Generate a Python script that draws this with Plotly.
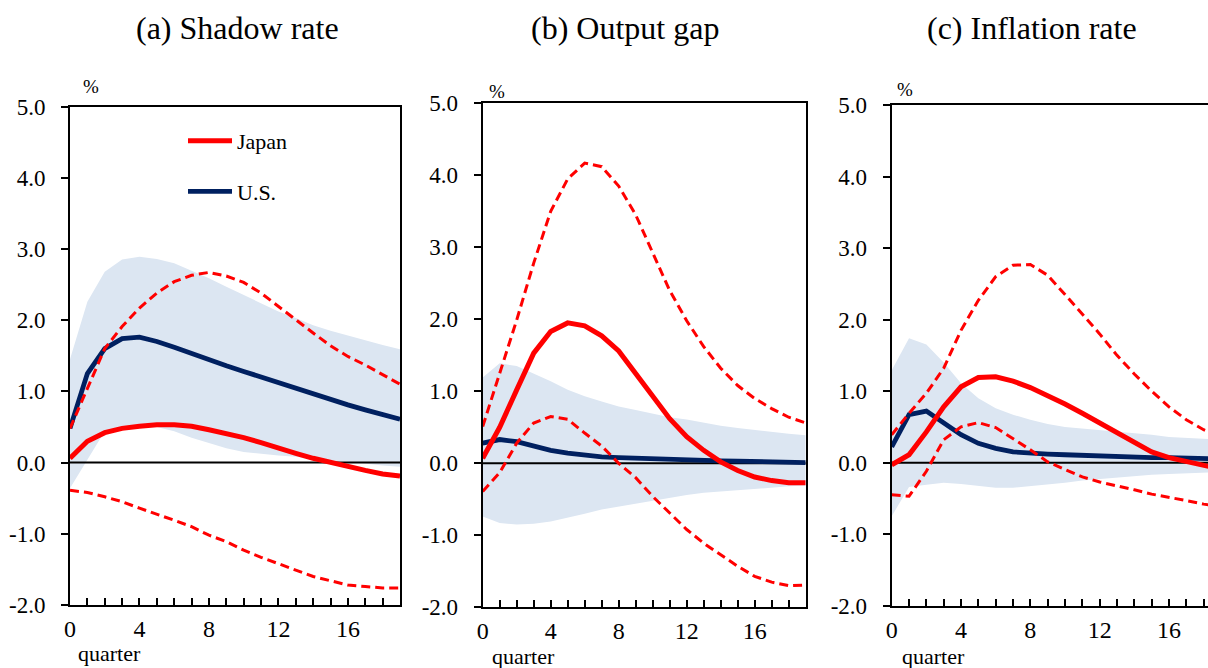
import plotly.graph_objects as go

W, H = 1208, 668

quarters = list(range(20))
x_ticks = [0, 4, 8, 12, 16]
y_ticks = [-2, -1, 0, 1, 2, 3, 4, 5]
y_ticktext = ["-2.0", "-1.0", "0.0", "1.0", "2.0", "3.0", "4.0", "5.0"]
panel_titles = ["(a) Shadow rate", "(b) Output gap", "(c) Inflation rate"]

# ---- (a) Shadow rate ----
jp1 = [0.06, 0.30, 0.42, 0.48, 0.51, 0.53, 0.53, 0.51, 0.46, 0.41, 0.35, 0.28, 0.20, 0.13, 0.06, 0.00, -0.06, -0.11, -0.16, -0.19]
jp1_hi = [0.48, 1.05, 1.60, 1.91, 2.17, 2.38, 2.54, 2.63, 2.67, 2.62, 2.53, 2.38, 2.19, 2.00, 1.82, 1.64, 1.49, 1.37, 1.24, 1.10]
jp1_lo = [-0.39, -0.42, -0.48, -0.55, -0.64, -0.72, -0.81, -0.90, -1.02, -1.11, -1.23, -1.33, -1.42, -1.51, -1.60, -1.66, -1.72, -1.74, -1.76, -1.76]
us1 = [0.48, 1.25, 1.60, 1.74, 1.76, 1.70, 1.62, 1.53, 1.44, 1.36, 1.28, 1.20, 1.12, 1.04, 0.96, 0.88, 0.81, 0.74, 0.68, 0.61]
us1_hi = [1.45, 2.26, 2.68, 2.85, 2.89, 2.86, 2.80, 2.70, 2.59, 2.47, 2.35, 2.24, 2.12, 2.03, 1.93, 1.85, 1.78, 1.71, 1.65, 1.59]
us1_lo = [-0.36, 0.05, 0.44, 0.48, 0.50, 0.50, 0.44, 0.35, 0.27, 0.20, 0.15, 0.12, 0.10, 0.08, 0.05, 0.03, 0.01, -0.02, -0.04, -0.06]

# ---- (b) Output gap ----
jp2 = [0.07, 0.50, 1.02, 1.53, 1.83, 1.95, 1.91, 1.77, 1.56, 1.25, 0.92, 0.62, 0.37, 0.18, 0.02, -0.10, -0.19, -0.24, -0.27, -0.27]
jp2_hi = [0.51, 1.25, 1.99, 2.78, 3.50, 3.95, 4.17, 4.12, 3.85, 3.45, 2.93, 2.40, 1.98, 1.62, 1.32, 1.08, 0.90, 0.76, 0.64, 0.56]
jp2_lo = [-0.39, -0.13, 0.28, 0.56, 0.65, 0.61, 0.42, 0.24, 0.00, -0.20, -0.46, -0.69, -0.92, -1.11, -1.27, -1.43, -1.57, -1.65, -1.70, -1.69]
us2 = [0.28, 0.33, 0.30, 0.24, 0.18, 0.14, 0.11, 0.09, 0.08, 0.07, 0.06, 0.05, 0.045, 0.04, 0.035, 0.03, 0.025, 0.02, 0.015, 0.01]
us2_hi = [1.19, 1.39, 1.35, 1.25, 1.14, 1.02, 0.93, 0.86, 0.79, 0.74, 0.69, 0.64, 0.61, 0.56, 0.52, 0.49, 0.46, 0.43, 0.41, 0.39]
us2_lo = [-0.74, -0.83, -0.85, -0.84, -0.81, -0.76, -0.70, -0.64, -0.60, -0.55, -0.51, -0.47, -0.44, -0.41, -0.39, -0.37, -0.35, -0.33, -0.32, -0.31]

# ---- (c) Inflation rate ----
jp3 = [-0.03, 0.11, 0.43, 0.78, 1.06, 1.19, 1.20, 1.14, 1.05, 0.94, 0.82, 0.69, 0.55, 0.41, 0.27, 0.15, 0.07, 0.01, -0.05, -0.09]
jp3_hi = [0.39, 0.69, 0.97, 1.32, 1.85, 2.27, 2.60, 2.76, 2.77, 2.62, 2.35, 2.08, 1.80, 1.50, 1.24, 1.00, 0.78, 0.60, 0.46, 0.36]
jp3_lo = [-0.45, -0.47, -0.12, 0.32, 0.50, 0.56, 0.49, 0.34, 0.18, 0.01, -0.10, -0.20, -0.27, -0.32, -0.38, -0.44, -0.48, -0.53, -0.58, -0.62]
us3 = [0.22, 0.67, 0.72, 0.55, 0.39, 0.27, 0.20, 0.15, 0.13, 0.12, 0.11, 0.10, 0.09, 0.08, 0.08, 0.07, 0.07, 0.06, 0.06, 0.05]
us3_hi = [1.29, 1.74, 1.65, 1.40, 1.11, 0.90, 0.76, 0.67, 0.60, 0.54, 0.50, 0.48, 0.46, 0.43, 0.41, 0.39, 0.36, 0.35, 0.33, 0.32]
us3_lo = [-0.75, -0.34, -0.31, -0.28, -0.30, -0.33, -0.35, -0.35, -0.33, -0.31, -0.28, -0.25, -0.23, -0.20, -0.19, -0.17, -0.16, -0.15, -0.14, -0.13]

panels = [
    dict(jp=jp1, jp_hi=jp1_hi, jp_lo=jp1_lo, us=us1, us_hi=us1_hi, us_lo=us1_lo),
    dict(jp=jp2, jp_hi=jp2_hi, jp_lo=jp2_lo, us=us2, us_hi=us2_hi, us_lo=us2_lo),
    dict(jp=jp3, jp_hi=jp3_hi, jp_lo=jp3_lo, us=us3, us_hi=us3_hi, us_lo=us3_lo),
]

RED = "#FF0000"
NAVY = "#002060"
BAND = "#DCE6F2"
FONT = "Liberation Serif"

# pixel geometry of each plot area: (left, right, top, bottom)
geo = [(70, 400, 106.5, 605), (482.7, 805.7, 103.3, 607.3), (891.7, 1208, 105, 605.7)]
x_ranges = [[0, 19], [0, 19], [0, (1208 - 891.7) / 17.33]]

fig = go.Figure()

for i, p in enumerate(panels):
    xa = "x" if i == 0 else f"x{i+1}"
    ya = "y" if i == 0 else f"y{i+1}"
    # US confidence band
    fig.add_trace(go.Scatter(x=quarters, y=p["us_hi"], mode="lines", line=dict(width=0, color=BAND),
                             showlegend=False, hoverinfo="skip", xaxis=xa, yaxis=ya))
    fig.add_trace(go.Scatter(x=quarters, y=p["us_lo"], mode="lines", line=dict(width=0, color=BAND),
                             fill="tonexty", fillcolor=BAND, showlegend=False, hoverinfo="skip",
                             xaxis=xa, yaxis=ya))
    # zero reference line
    fig.add_trace(go.Scatter(x=[quarters[0], quarters[-1]], y=[0, 0], mode="lines",
                             line=dict(color="black", width=2), showlegend=False,
                             hoverinfo="skip", xaxis=xa, yaxis=ya))
    # US
    fig.add_trace(go.Scatter(x=quarters, y=p["us"], mode="lines", name="U.S.",
                             line=dict(color=NAVY, width=4.8), showlegend=(i == 0),
                             legendgroup="us", legendrank=2, xaxis=xa, yaxis=ya))
    # Japan bands (dashed)
    for key in ("jp_hi", "jp_lo"):
        fig.add_trace(go.Scatter(x=quarters, y=p[key], mode="lines",
                                 line=dict(color=RED, width=3, dash="9px,5px"),
                                 showlegend=False, xaxis=xa, yaxis=ya))
    # Japan
    fig.add_trace(go.Scatter(x=quarters, y=p["jp"], mode="lines", name="Japan",
                             line=dict(color=RED, width=5), showlegend=(i == 0),
                             legendgroup="jp", legendrank=1, xaxis=xa, yaxis=ya))

layout = dict(
    template="none",
    width=W, height=H, autosize=False,
    margin=dict(l=0, r=0, t=0, b=0, pad=0),
    paper_bgcolor="white", plot_bgcolor="white",
    font=dict(family=FONT, color="black", size=22),
    legend=dict(x=183 / W, y=1 - 120 / H, xanchor="left", yanchor="top",
                bgcolor="rgba(0,0,0,0)", font=dict(size=22, family=FONT),
                traceorder="grouped", tracegroupgap=19, itemwidth=44),
    annotations=[],
)

for i in range(3):
    l, r, t, b = geo[i]
    xk = "xaxis" if i == 0 else f"xaxis{i+1}"
    yk = "yaxis" if i == 0 else f"yaxis{i+1}"
    ya = "y" if i == 0 else f"y{i+1}"
    xa = "x" if i == 0 else f"x{i+1}"
    layout[xk] = dict(
        domain=[l / W, r / W], range=x_ranges[i], anchor=ya, automargin=False,
        tickmode="array", tickvals=x_ticks, ticktext=[str(v) for v in x_ticks],
        ticks="inside", ticklen=7, tickwidth=2, tickcolor="black",
        minor=dict(dtick=1, tick0=0, ticks="inside", ticklen=7, tickwidth=2, tickcolor="black"),
        showline=True, linewidth=2, linecolor="black", mirror=True,
        showgrid=False, zeroline=False,
        tickfont=dict(size=24, family=FONT), ticklabelstandoff=1,
    )
    layout[yk] = dict(
        domain=[1 - b / H, 1 - t / H], range=[-2, 5], anchor=xa, automargin=False,
        tickmode="array", tickvals=y_ticks, ticktext=y_ticktext,
        ticks="outside", ticklen=7, tickwidth=2, tickcolor="black",
        showline=True, linewidth=2, linecolor="black", mirror=(i < 2),
        showgrid=False, zeroline=False,
        tickfont=dict(size=23, family=FONT), ticklabelstandoff=11,
    )

title_x = [237.5, 625, 1032]
pct_pos = [(91, 87), (497, 92), (905, 89)]
quarter_pos = [(110, 653), (523, 656), (933, 656)]

for i in range(3):
    layout["annotations"].append(dict(text=panel_titles[i], x=title_x[i] / W, y=1 - 28 / H,
                                      xref="paper", yref="paper", showarrow=False,
                                      xanchor="center", yanchor="middle",
                                      font=dict(size=32, family=FONT)))
    layout["annotations"].append(dict(text="%", x=pct_pos[i][0] / W, y=1 - pct_pos[i][1] / H,
                                      xref="paper", yref="paper", showarrow=False,
                                      xanchor="center", yanchor="middle",
                                      font=dict(size=19, family=FONT)))
    layout["annotations"].append(dict(text="quarter", x=quarter_pos[i][0] / W, y=1 - quarter_pos[i][1] / H,
                                      xref="paper", yref="paper", showarrow=False,
                                      xanchor="center", yanchor="middle",
                                      font=dict(size=22, family=FONT)))

fig.update_layout(**layout)
fig.write_html("out.html")
